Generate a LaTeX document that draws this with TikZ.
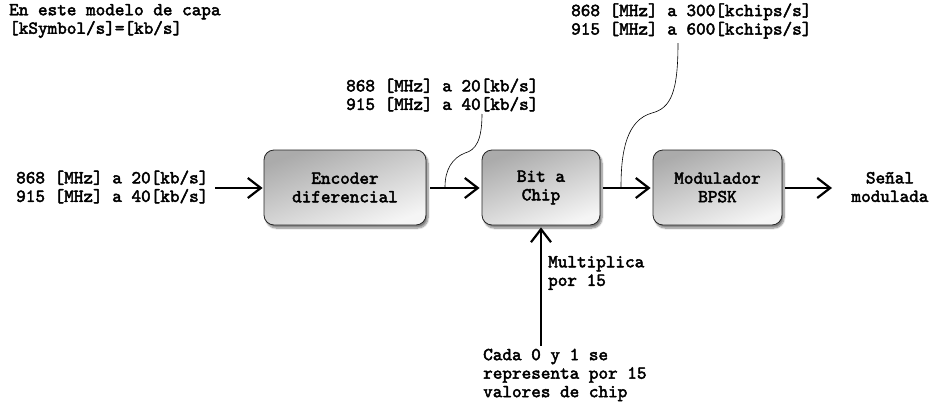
\documentclass[tikz,border=0pt]{standalone}
\usepackage{fontspec}
\setmonofont{lmmono10-regular}[Extension=.otf, FakeBold=2.5]
\usetikzlibrary{arrows.meta,shadows.blur}
\begin{document}
\begin{tikzpicture}[x=1pt,y=-1pt,
  txt/.style={font=\ttfamily\bfseries\fontsize{18.3}{18.5}\selectfont, align=left, inner sep=0pt},
  blk/.style={draw=black!85, line width=0.8pt, rounded corners=10pt, minimum height=75pt,
    top color=black!33, bottom color=black!4, shading angle=20,
    blur shadow={shadow xshift=2pt, shadow yshift=-3pt, shadow blur steps=8, shadow opacity=50},
    font=\ttfamily\bfseries\fontsize{18.3}{18.5}\selectfont, align=center, inner sep=0pt},
  arr/.style={line width=2.2pt, -{Straight Barb[length=13pt,width=20pt,line width=2.2pt]}},
  callout/.style={line width=0.6pt}]
\useasboundingbox (0,0) rectangle (930,410);

\node[txt, anchor=west] (capa) at (9,21) {En este modelo de capa\\{}{[}kSymbol/s{]}={[}kb/s{]}};
\node[txt, anchor=west] (chips) at (571,21) {868 [MHz] a 300[kchips/s]\\915 [MHz] a 600[kchips/s]};
\node[txt, anchor=west] (kbmid) at (346,95) {868 [MHz] a 20[kb/s]\\915 [MHz] a 40[kb/s]};
\node[txt, anchor=west] (kbin) at (16,187) {868 [MHz] a 20[kb/s]\\915 [MHz] a 40[kb/s]};
\node[txt, align=center] (out) at (890,187) {Señal\\modulada};
\node[txt, anchor=west] (mult) at (548,273) {Multiplica\\por 15};
\node[txt, anchor=west] (cada) at (483,375) {Cada 0 y 1 se\\representa por 15\\valores de chip};

\node[blk, minimum width=162pt] (enc) at (345,187.5) {Encoder\\diferencial};
\node[blk, minimum width=118pt] (bit) at (541,187.5) {Bit a\\Chip};
\node[blk, minimum width=129pt] (mod) at (717.5,187.5) {Modulador\\BPSK};

\coordinate (inS) at (215,188);
\coordinate (chipS) at (541,346);
\coordinate (modE) at (832,188);

\draw[arr, shorten >=1pt] (inS) -- (enc.west |- inS);
\draw[arr, shorten <=4pt, shorten >=2pt] (enc.east |- inS) -- (bit.west |- inS);
\draw[arr, shorten <=3pt, shorten >=2pt] (bit.east |- inS) -- (mod.west |- inS);
\draw[arr, shorten <=3pt] (mod.east |- inS) -- (modE);
\draw[arr, shorten >=2pt] (chipS) -- (bit.south);

\coordinate (c1a) at (482,114);
\coordinate (c1b) at (445,187);
\coordinate (c2a) at (678,43);
\coordinate (c2b) at (621,187);
\draw[callout] (c1a) .. controls (482,140) and (476,150) .. (465,153)
  .. controls (452,158) and (445,170) .. (c1b);
\draw[callout] (c2a) .. controls (678,92) and (671,108) .. (652,113)
  .. controls (627,120) and (621,150) .. (c2b);
\end{tikzpicture}
\end{document}
